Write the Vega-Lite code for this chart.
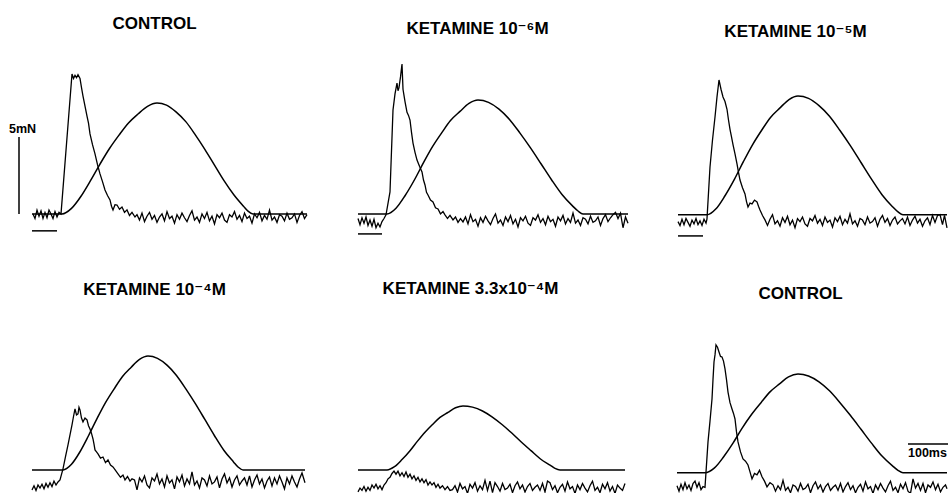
{
"$schema": "https://vega.github.io/schema/vega-lite/v6.json",
"background": "white",
"padding": {"left": 7, "top": 14, "right": 0, "bottom": 0},
"columns": 3,
"spacing": {"row": 81, "column": 28},
"bounds": "flush",
"config": {"view": {"stroke": null}, "title": {"font": "Liberation Sans, DejaVu Sans, sans-serif", "fontSize": 17, "fontWeight": "bold", "color": "#000", "anchor": "middle"}},
"datasets": {
"bars": [{"p":1,"t":-86,"t2":-86,"f":0,"f2":5},{"p":1,"t":-60,"t2":-10,"f":-1.1,"f2":-1.1},{"p":2,"t":-54,"t2":-6,"f":-1.3,"f2":-1.3},{"p":3,"t":-60,"t2":-10,"f":-1.43,"f2":-1.43},{"p":4,"t":-60,"t2":-10,"f":-1.43,"f2":-1.43},{"p":6,"t":400,"t2":500,"f":1.82,"f2":1.82}],
"labels": [{"p":1,"t":-106,"f":5.26,"label":"5mN"},{"p":6,"t":400,"f":0.97,"label":"100ms"}],
"traces": [
{"p":1,"s":"F","t":-60,"f":0},{"p":1,"s":"F","t":-30,"f":0},{"p":1,"s":"F","t":0,"f":0},{"p":1,"s":"F","t":19,"f":0.36},{"p":1,"s":"F","t":38,"f":1.15},{"p":1,"s":"F","t":57,"f":2.16},{"p":1,"s":"F","t":76,"f":3.24},{"p":1,"s":"F","t":95,"f":4.25},{"p":1,"s":"F","t":114,"f":5.12},{"p":1,"s":"F","t":133,"f":5.91},{"p":1,"s":"F","t":152,"f":6.49},{"p":1,"s":"F","t":171,"f":6.99},{"p":1,"s":"F","t":190,"f":7.21},{"p":1,"s":"F","t":209,"f":7.07},{"p":1,"s":"F","t":228,"f":6.63},{"p":1,"s":"F","t":248,"f":5.98},{"p":1,"s":"F","t":267,"f":5.12},{"p":1,"s":"F","t":286,"f":4.18},{"p":1,"s":"F","t":305,"f":3.17},{"p":1,"s":"F","t":324,"f":2.16},{"p":1,"s":"F","t":344,"f":1.23},{"p":1,"s":"F","t":363,"f":0.5},{"p":1,"s":"F","t":372,"f":0.18},{"p":1,"s":"F","t":382,"f":0},{"p":1,"s":"F","t":430,"f":0},{"p":1,"s":"F","t":490,"f":0},
{"p":2,"s":"F","t":-54,"f":0},{"p":2,"s":"F","t":-25,"f":0},{"p":2,"s":"F","t":4,"f":0},{"p":2,"s":"F","t":22,"f":0.37},{"p":2,"s":"F","t":40,"f":1.18},{"p":2,"s":"F","t":59,"f":2.22},{"p":2,"s":"F","t":77,"f":3.33},{"p":2,"s":"F","t":95,"f":4.37},{"p":2,"s":"F","t":113,"f":5.25},{"p":2,"s":"F","t":131,"f":6.07},{"p":2,"s":"F","t":150,"f":6.66},{"p":2,"s":"F","t":168,"f":7.18},{"p":2,"s":"F","t":186,"f":7.4},{"p":2,"s":"F","t":207,"f":7.25},{"p":2,"s":"F","t":228,"f":6.81},{"p":2,"s":"F","t":249,"f":6.14},{"p":2,"s":"F","t":270,"f":5.25},{"p":2,"s":"F","t":291,"f":4.29},{"p":2,"s":"F","t":312,"f":3.26},{"p":2,"s":"F","t":333,"f":2.22},{"p":2,"s":"F","t":354,"f":1.26},{"p":2,"s":"F","t":375,"f":0.52},{"p":2,"s":"F","t":386,"f":0.19},{"p":2,"s":"F","t":396,"f":0},{"p":2,"s":"F","t":440,"f":0},{"p":2,"s":"F","t":486,"f":0},
{"p":3,"s":"F","t":-60,"f":-0.06},{"p":3,"s":"F","t":-30,"f":-0.06},{"p":3,"s":"F","t":-2,"f":-0.06},{"p":3,"s":"F","t":16,"f":0.33},{"p":3,"s":"F","t":34,"f":1.18},{"p":3,"s":"F","t":53,"f":2.26},{"p":3,"s":"F","t":71,"f":3.41},{"p":3,"s":"F","t":89,"f":4.49},{"p":3,"s":"F","t":107,"f":5.42},{"p":3,"s":"F","t":125,"f":6.27},{"p":3,"s":"F","t":144,"f":6.89},{"p":3,"s":"F","t":162,"f":7.43},{"p":3,"s":"F","t":180,"f":7.66},{"p":3,"s":"F","t":201,"f":7.51},{"p":3,"s":"F","t":222,"f":7.04},{"p":3,"s":"F","t":243,"f":6.35},{"p":3,"s":"F","t":264,"f":5.42},{"p":3,"s":"F","t":285,"f":4.42},{"p":3,"s":"F","t":306,"f":3.34},{"p":3,"s":"F","t":327,"f":2.26},{"p":3,"s":"F","t":348,"f":1.25},{"p":3,"s":"F","t":369,"f":0.47},{"p":3,"s":"F","t":380,"f":0.13},{"p":3,"s":"F","t":390,"f":-0.06},{"p":3,"s":"F","t":430,"f":-0.06},{"p":3,"s":"F","t":478,"f":-0.06},
{"p":4,"s":"F","t":-60,"f":0.13},{"p":4,"s":"F","t":-30,"f":0.13},{"p":4,"s":"F","t":2,"f":0.13},{"p":4,"s":"F","t":19,"f":0.5},{"p":4,"s":"F","t":36,"f":1.31},{"p":4,"s":"F","t":53,"f":2.35},{"p":4,"s":"F","t":70,"f":3.46},{"p":4,"s":"F","t":87,"f":4.5},{"p":4,"s":"F","t":104,"f":5.38},{"p":4,"s":"F","t":121,"f":6.2},{"p":4,"s":"F","t":138,"f":6.79},{"p":4,"s":"F","t":155,"f":7.31},{"p":4,"s":"F","t":172,"f":7.53},{"p":4,"s":"F","t":191,"f":7.38},{"p":4,"s":"F","t":210,"f":6.94},{"p":4,"s":"F","t":229,"f":6.27},{"p":4,"s":"F","t":248,"f":5.38},{"p":4,"s":"F","t":267,"f":4.42},{"p":4,"s":"F","t":286,"f":3.39},{"p":4,"s":"F","t":305,"f":2.35},{"p":4,"s":"F","t":324,"f":1.39},{"p":4,"s":"F","t":343,"f":0.65},{"p":4,"s":"F","t":352,"f":0.32},{"p":4,"s":"F","t":362,"f":0.13},{"p":4,"s":"F","t":420,"f":0.13},{"p":4,"s":"F","t":486,"f":0.13},
{"p":5,"s":"F","t":-54,"f":0.13},{"p":5,"s":"F","t":-25,"f":0.13},{"p":5,"s":"F","t":4,"f":0.13},{"p":5,"s":"F","t":19,"f":0.34},{"p":5,"s":"F","t":34,"f":0.8},{"p":5,"s":"F","t":50,"f":1.38},{"p":5,"s":"F","t":65,"f":2.0},{"p":5,"s":"F","t":80,"f":2.58},{"p":5,"s":"F","t":95,"f":3.08},{"p":5,"s":"F","t":110,"f":3.54},{"p":5,"s":"F","t":126,"f":3.87},{"p":5,"s":"F","t":141,"f":4.17},{"p":5,"s":"F","t":156,"f":4.29},{"p":5,"s":"F","t":175,"f":4.21},{"p":5,"s":"F","t":195,"f":3.96},{"p":5,"s":"F","t":214,"f":3.58},{"p":5,"s":"F","t":234,"f":3.08},{"p":5,"s":"F","t":253,"f":2.54},{"p":5,"s":"F","t":272,"f":1.96},{"p":5,"s":"F","t":292,"f":1.38},{"p":5,"s":"F","t":311,"f":0.84},{"p":5,"s":"F","t":331,"f":0.42},{"p":5,"s":"F","t":340,"f":0.23},{"p":5,"s":"F","t":350,"f":0.13},{"p":5,"s":"F","t":410,"f":0.13},{"p":5,"s":"F","t":480,"f":0.13},
{"p":6,"s":"F","t":-62,"f":-0.06},{"p":6,"s":"F","t":-30,"f":-0.06},{"p":6,"s":"F","t":-6,"f":-0.06},{"p":6,"s":"F","t":13,"f":0.26},{"p":6,"s":"F","t":31,"f":0.97},{"p":6,"s":"F","t":50,"f":1.87},{"p":6,"s":"F","t":68,"f":2.83},{"p":6,"s":"F","t":87,"f":3.73},{"p":6,"s":"F","t":106,"f":4.5},{"p":6,"s":"F","t":124,"f":5.2},{"p":6,"s":"F","t":143,"f":5.72},{"p":6,"s":"F","t":161,"f":6.17},{"p":6,"s":"F","t":180,"f":6.36},{"p":6,"s":"F","t":201,"f":6.23},{"p":6,"s":"F","t":222,"f":5.85},{"p":6,"s":"F","t":243,"f":5.27},{"p":6,"s":"F","t":264,"f":4.5},{"p":6,"s":"F","t":285,"f":3.66},{"p":6,"s":"F","t":306,"f":2.77},{"p":6,"s":"F","t":327,"f":1.87},{"p":6,"s":"F","t":348,"f":1.03},{"p":6,"s":"F","t":369,"f":0.39},{"p":6,"s":"F","t":380,"f":0.1},{"p":6,"s":"F","t":390,"f":-0.06},{"p":6,"s":"F","t":430,"f":-0.06},{"p":6,"s":"F","t":478,"f":-0.06},
{"p":1,"s":"D","t":-58,"f":0.0},{"p":1,"s":"D","t":-54,"f":-0.3},{"p":1,"s":"D","t":-50,"f":0.25},{"p":1,"s":"D","t":-46,"f":-0.15},{"p":1,"s":"D","t":-42,"f":0.2},{"p":1,"s":"D","t":-38,"f":-0.3},{"p":1,"s":"D","t":-34,"f":0.1},{"p":1,"s":"D","t":-30,"f":-0.25},{"p":1,"s":"D","t":-26,"f":0.25},{"p":1,"s":"D","t":-22,"f":0.0},{"p":1,"s":"D","t":-18,"f":-0.3},{"p":1,"s":"D","t":-14,"f":0.15},{"p":1,"s":"D","t":-10,"f":-0.2},{"p":1,"s":"D","t":-6,"f":0.1},{"p":1,"s":"D","t":-2,"f":0.0},
{"p":1,"s":"D","t":20,"f":9.09},{"p":1,"s":"D","t":23,"f":8.8},{"p":1,"s":"D","t":26,"f":9.0},{"p":1,"s":"D","t":29,"f":8.85},{"p":1,"s":"D","t":32,"f":9.05},{"p":1,"s":"D","t":36,"f":8.8},{"p":1,"s":"D","t":39,"f":8.2},{"p":1,"s":"D","t":42,"f":7.66},{"p":1,"s":"D","t":46,"f":7.0},{"p":1,"s":"D","t":50,"f":6.36},{"p":1,"s":"D","t":53,"f":5.9},{"p":1,"s":"D","t":56,"f":5.2},{"p":1,"s":"D","t":61,"f":4.5},{"p":1,"s":"D","t":66,"f":3.9},{"p":1,"s":"D","t":71,"f":3.2},{"p":1,"s":"D","t":76,"f":2.6},{"p":1,"s":"D","t":81,"f":2.1},{"p":1,"s":"D","t":86,"f":1.56},{"p":1,"s":"D","t":91,"f":1.2},{"p":1,"s":"D","t":96,"f":0.91},{"p":1,"s":"D","t":99,"f":0.5},{"p":1,"s":"D","t":102,"f":0.26},{"p":1,"s":"D","t":106,"f":0.6},{"p":1,"s":"D","t":110,"f":0.58},{"p":1,"s":"D","t":115,"f":0.3},{"p":1,"s":"D","t":120,"f":0.45},{"p":1,"s":"D","t":125,"f":0.1},{"p":1,"s":"D","t":130,"f":0.26},{"p":1,"s":"D","t":135,"f":-0.1},{"p":1,"s":"D","t":140,"f":0.1},{"p":1,"s":"D","t":146,"f":-0.2},
{"p":1,"s":"D","t":150,"f":-0.05},{"p":1,"s":"D","t":155,"f":-0.4},{"p":1,"s":"D","t":160,"f":0.05},{"p":1,"s":"D","t":165,"f":-0.5},{"p":1,"s":"D","t":170,"f":-0.15},{"p":1,"s":"D","t":175,"f":0.1},{"p":1,"s":"D","t":180,"f":-0.35},{"p":1,"s":"D","t":185,"f":-0.1},{"p":1,"s":"D","t":190,"f":-0.55},{"p":1,"s":"D","t":195,"f":-0.2},{"p":1,"s":"D","t":200,"f":0.0},{"p":1,"s":"D","t":205,"f":-0.45},{"p":1,"s":"D","t":210,"f":0.15},{"p":1,"s":"D","t":215,"f":-0.3},{"p":1,"s":"D","t":220,"f":-0.15},{"p":1,"s":"D","t":225,"f":-0.6},{"p":1,"s":"D","t":230,"f":-0.05},{"p":1,"s":"D","t":235,"f":-0.35},{"p":1,"s":"D","t":240,"f":0.05},{"p":1,"s":"D","t":245,"f":-0.25},{"p":1,"s":"D","t":250,"f":-0.5},{"p":1,"s":"D","t":255,"f":-0.1},{"p":1,"s":"D","t":260,"f":0.2},{"p":1,"s":"D","t":265,"f":-0.4},{"p":1,"s":"D","t":270,"f":-0.2},{"p":1,"s":"D","t":275,"f":-0.55},{"p":1,"s":"D","t":280,"f":0.0},{"p":1,"s":"D","t":285,"f":-0.3},{"p":1,"s":"D","t":290,"f":0.1},{"p":1,"s":"D","t":295,"f":-0.45},{"p":1,"s":"D","t":300,"f":-0.15},{"p":1,"s":"D","t":305,"f":-0.65},{"p":1,"s":"D","t":310,"f":-0.05},{"p":1,"s":"D","t":315,"f":-0.25},{"p":1,"s":"D","t":320,"f":0.05},{"p":1,"s":"D","t":325,"f":-0.4},{"p":1,"s":"D","t":330,"f":-0.55},{"p":1,"s":"D","t":335,"f":-0.05},{"p":1,"s":"D","t":340,"f":-0.2},{"p":1,"s":"D","t":345,"f":0.15},{"p":1,"s":"D","t":350,"f":-0.35},{"p":1,"s":"D","t":355,"f":-0.1},{"p":1,"s":"D","t":360,"f":-0.5},{"p":1,"s":"D","t":365,"f":0.05},{"p":1,"s":"D","t":370,"f":-0.3},{"p":1,"s":"D","t":375,"f":-0.15},{"p":1,"s":"D","t":380,"f":-0.6},{"p":1,"s":"D","t":385,"f":0.0},{"p":1,"s":"D","t":390,"f":-0.25},{"p":1,"s":"D","t":395,"f":0.1},{"p":1,"s":"D","t":400,"f":-0.45},{"p":1,"s":"D","t":405,"f":-0.1},{"p":1,"s":"D","t":410,"f":-0.35},{"p":1,"s":"D","t":415,"f":0.25},{"p":1,"s":"D","t":420,"f":-0.4},{"p":1,"s":"D","t":425,"f":-0.2},{"p":1,"s":"D","t":430,"f":-0.55},{"p":1,"s":"D","t":435,"f":-0.05},{"p":1,"s":"D","t":440,"f":-0.15},{"p":1,"s":"D","t":445,"f":-0.45},{"p":1,"s":"D","t":450,"f":0.05},{"p":1,"s":"D","t":455,"f":-0.35},{"p":1,"s":"D","t":460,"f":-0.25},{"p":1,"s":"D","t":465,"f":0.0},{"p":1,"s":"D","t":470,"f":-0.55},{"p":1,"s":"D","t":475,"f":-0.1},{"p":1,"s":"D","t":480,"f":0.15},{"p":1,"s":"D","t":485,"f":-0.3},{"p":1,"s":"D","t":490,"f":-0.05},
{"p":2,"s":"D","t":-54,"f":-0.3},{"p":2,"s":"D","t":-50,"f":-0.7},{"p":2,"s":"D","t":-46,"f":-0.25},{"p":2,"s":"D","t":-42,"f":-0.6},{"p":2,"s":"D","t":-38,"f":-0.2},{"p":2,"s":"D","t":-34,"f":-0.75},{"p":2,"s":"D","t":-30,"f":-0.4},{"p":2,"s":"D","t":-26,"f":-0.8},{"p":2,"s":"D","t":-22,"f":-0.35},{"p":2,"s":"D","t":-18,"f":-0.9},{"p":2,"s":"D","t":-14,"f":-0.6},{"p":2,"s":"D","t":-10,"f":-0.85},{"p":2,"s":"D","t":-6,"f":-0.5},{"p":2,"s":"D","t":-2,"f":-0.3},{"p":2,"s":"D","t":2,"f":-0.06},
{"p":2,"s":"D","t":10,"f":1.43},{"p":2,"s":"D","t":16,"f":6.75},{"p":2,"s":"D","t":20,"f":7.8},{"p":2,"s":"D","t":24,"f":8.5},{"p":2,"s":"D","t":26,"f":8.0},{"p":2,"s":"D","t":28,"f":8.2},{"p":2,"s":"D","t":31,"f":8.9},{"p":2,"s":"D","t":34,"f":9.74},{"p":2,"s":"D","t":36,"f":8.1},{"p":2,"s":"D","t":40,"f":7.3},{"p":2,"s":"D","t":44,"f":6.6},{"p":2,"s":"D","t":47,"f":6.4},{"p":2,"s":"D","t":50,"f":6.1},{"p":2,"s":"D","t":53,"f":5.3},{"p":2,"s":"D","t":56,"f":4.6},{"p":2,"s":"D","t":60,"f":4.0},{"p":2,"s":"D","t":64,"f":3.5},{"p":2,"s":"D","t":69,"f":3.1},{"p":2,"s":"D","t":74,"f":2.73},{"p":2,"s":"D","t":77,"f":2.2},{"p":2,"s":"D","t":80,"f":1.88},{"p":2,"s":"D","t":83,"f":1.4},{"p":2,"s":"D","t":86,"f":1.23},{"p":2,"s":"D","t":91,"f":0.9},{"p":2,"s":"D","t":96,"f":0.78},{"p":2,"s":"D","t":101,"f":0.4},{"p":2,"s":"D","t":106,"f":0.32},{"p":2,"s":"D","t":111,"f":0.0},{"p":2,"s":"D","t":116,"f":0.15},{"p":2,"s":"D","t":120,"f":-0.06},{"p":2,"s":"D","t":125,"f":-0.3},{"p":2,"s":"D","t":130,"f":-0.1},{"p":2,"s":"D","t":136,"f":-0.39},{"p":2,"s":"D","t":141,"f":-0.2},{"p":2,"s":"D","t":146,"f":-0.55},{"p":2,"s":"D","t":151,"f":-0.3},{"p":2,"s":"D","t":156,"f":-0.52},
{"p":2,"s":"D","t":161,"f":-0.2},{"p":2,"s":"D","t":166,"f":-0.65},{"p":2,"s":"D","t":171,"f":-0.05},{"p":2,"s":"D","t":176,"f":-0.5},{"p":2,"s":"D","t":181,"f":-0.35},{"p":2,"s":"D","t":186,"f":-0.8},{"p":2,"s":"D","t":191,"f":-0.25},{"p":2,"s":"D","t":196,"f":-0.55},{"p":2,"s":"D","t":201,"f":-0.15},{"p":2,"s":"D","t":206,"f":-0.45},{"p":2,"s":"D","t":211,"f":-0.7},{"p":2,"s":"D","t":216,"f":-0.3},{"p":2,"s":"D","t":221,"f":0.0},{"p":2,"s":"D","t":226,"f":-0.6},{"p":2,"s":"D","t":231,"f":-0.4},{"p":2,"s":"D","t":236,"f":-0.75},{"p":2,"s":"D","t":241,"f":-0.2},{"p":2,"s":"D","t":246,"f":-0.5},{"p":2,"s":"D","t":251,"f":-0.1},{"p":2,"s":"D","t":256,"f":-0.65},{"p":2,"s":"D","t":261,"f":-0.35},{"p":2,"s":"D","t":266,"f":-0.85},{"p":2,"s":"D","t":271,"f":-0.25},{"p":2,"s":"D","t":276,"f":-0.45},{"p":2,"s":"D","t":281,"f":-0.15},{"p":2,"s":"D","t":286,"f":-0.6},{"p":2,"s":"D","t":291,"f":-0.75},{"p":2,"s":"D","t":296,"f":-0.25},{"p":2,"s":"D","t":301,"f":-0.4},{"p":2,"s":"D","t":306,"f":-0.05},{"p":2,"s":"D","t":311,"f":-0.55},{"p":2,"s":"D","t":316,"f":-0.3},{"p":2,"s":"D","t":321,"f":-0.7},{"p":2,"s":"D","t":326,"f":-0.15},{"p":2,"s":"D","t":331,"f":-0.5},{"p":2,"s":"D","t":336,"f":-0.35},{"p":2,"s":"D","t":341,"f":-0.8},{"p":2,"s":"D","t":346,"f":-0.2},{"p":2,"s":"D","t":351,"f":-0.45},{"p":2,"s":"D","t":356,"f":-0.1},{"p":2,"s":"D","t":361,"f":-0.65},{"p":2,"s":"D","t":366,"f":-0.3},{"p":2,"s":"D","t":371,"f":-0.55},{"p":2,"s":"D","t":376,"f":0.05},{"p":2,"s":"D","t":381,"f":-0.6},{"p":2,"s":"D","t":386,"f":-0.4},{"p":2,"s":"D","t":391,"f":-0.75},{"p":2,"s":"D","t":396,"f":-0.25},{"p":2,"s":"D","t":401,"f":-0.35},{"p":2,"s":"D","t":406,"f":-0.65},{"p":2,"s":"D","t":411,"f":-0.15},{"p":2,"s":"D","t":416,"f":-0.55},{"p":2,"s":"D","t":421,"f":-0.45},{"p":2,"s":"D","t":426,"f":-0.2},{"p":2,"s":"D","t":431,"f":-0.75},{"p":2,"s":"D","t":436,"f":-0.3},{"p":2,"s":"D","t":441,"f":-0.05},{"p":2,"s":"D","t":446,"f":-0.5},{"p":2,"s":"D","t":451,"f":-0.25},{"p":2,"s":"D","t":456,"f":-0.05},{"p":2,"s":"D","t":461,"f":0.1},{"p":2,"s":"D","t":466,"f":-0.3},{"p":2,"s":"D","t":471,"f":0.05},{"p":2,"s":"D","t":476,"f":-0.9},{"p":2,"s":"D","t":481,"f":-0.2},{"p":2,"s":"D","t":486,"f":-0.6},
{"p":3,"s":"D","t":-60,"f":-0.5},{"p":3,"s":"D","t":-56,"f":-0.75},{"p":3,"s":"D","t":-52,"f":-0.35},{"p":3,"s":"D","t":-48,"f":-0.7},{"p":3,"s":"D","t":-44,"f":-0.3},{"p":3,"s":"D","t":-40,"f":-0.55},{"p":3,"s":"D","t":-36,"f":-0.8},{"p":3,"s":"D","t":-32,"f":-0.4},{"p":3,"s":"D","t":-28,"f":-0.65},{"p":3,"s":"D","t":-24,"f":-0.3},{"p":3,"s":"D","t":-20,"f":-0.7},{"p":3,"s":"D","t":-16,"f":-0.45},{"p":3,"s":"D","t":-12,"f":-0.75},{"p":3,"s":"D","t":-8,"f":-0.35},{"p":3,"s":"D","t":-4,"f":-0.6},{"p":3,"s":"D","t":-2,"f":-0.32},
{"p":3,"s":"D","t":4,"f":3.05},{"p":3,"s":"D","t":9,"f":4.8},{"p":3,"s":"D","t":14,"f":6.3},{"p":3,"s":"D","t":18,"f":7.6},{"p":3,"s":"D","t":22,"f":8.7},{"p":3,"s":"D","t":26,"f":8.1},{"p":3,"s":"D","t":30,"f":7.6},{"p":3,"s":"D","t":34,"f":7.3},{"p":3,"s":"D","t":38,"f":6.8},{"p":3,"s":"D","t":41,"f":6.1},{"p":3,"s":"D","t":44,"f":5.5},{"p":3,"s":"D","t":47,"f":5.0},{"p":3,"s":"D","t":50,"f":4.5},{"p":3,"s":"D","t":54,"f":3.9},{"p":3,"s":"D","t":58,"f":3.25},{"p":3,"s":"D","t":61,"f":2.7},{"p":3,"s":"D","t":64,"f":2.2},{"p":3,"s":"D","t":69,"f":1.7},{"p":3,"s":"D","t":74,"f":1.3},{"p":3,"s":"D","t":77,"f":0.8},{"p":3,"s":"D","t":80,"f":0.45},{"p":3,"s":"D","t":84,"f":0.7},{"p":3,"s":"D","t":88,"f":0.65},{"p":3,"s":"D","t":93,"f":0.9},{"p":3,"s":"D","t":98,"f":0.78},{"p":3,"s":"D","t":101,"f":0.5},{"p":3,"s":"D","t":104,"f":0.26},{"p":3,"s":"D","t":109,"f":-0.1},{"p":3,"s":"D","t":114,"f":-0.39},
{"p":3,"s":"D","t":119,"f":-0.75},{"p":3,"s":"D","t":124,"f":-0.35},{"p":3,"s":"D","t":129,"f":-0.05},{"p":3,"s":"D","t":134,"f":-0.65},{"p":3,"s":"D","t":139,"f":-0.45},{"p":3,"s":"D","t":144,"f":-0.8},{"p":3,"s":"D","t":149,"f":-0.25},{"p":3,"s":"D","t":154,"f":-0.55},{"p":3,"s":"D","t":159,"f":-0.15},{"p":3,"s":"D","t":164,"f":-0.7},{"p":3,"s":"D","t":169,"f":-0.4},{"p":3,"s":"D","t":174,"f":-0.9},{"p":3,"s":"D","t":179,"f":-0.3},{"p":3,"s":"D","t":184,"f":-0.5},{"p":3,"s":"D","t":189,"f":-0.2},{"p":3,"s":"D","t":194,"f":-0.65},{"p":3,"s":"D","t":199,"f":-0.8},{"p":3,"s":"D","t":204,"f":-0.3},{"p":3,"s":"D","t":209,"f":-0.45},{"p":3,"s":"D","t":214,"f":-0.1},{"p":3,"s":"D","t":219,"f":-0.6},{"p":3,"s":"D","t":224,"f":-0.35},{"p":3,"s":"D","t":229,"f":-0.75},{"p":3,"s":"D","t":234,"f":-0.2},{"p":3,"s":"D","t":239,"f":-0.55},{"p":3,"s":"D","t":244,"f":-0.4},{"p":3,"s":"D","t":249,"f":-0.85},{"p":3,"s":"D","t":254,"f":-0.25},{"p":3,"s":"D","t":259,"f":-0.5},{"p":3,"s":"D","t":264,"f":-0.15},{"p":3,"s":"D","t":269,"f":-0.7},{"p":3,"s":"D","t":274,"f":-0.35},{"p":3,"s":"D","t":279,"f":-0.6},{"p":3,"s":"D","t":284,"f":0.0},{"p":3,"s":"D","t":289,"f":-0.65},{"p":3,"s":"D","t":294,"f":-0.45},{"p":3,"s":"D","t":299,"f":-0.8},{"p":3,"s":"D","t":304,"f":-0.3},{"p":3,"s":"D","t":309,"f":-0.4},{"p":3,"s":"D","t":314,"f":-0.7},{"p":3,"s":"D","t":319,"f":-0.2},{"p":3,"s":"D","t":324,"f":-0.6},{"p":3,"s":"D","t":329,"f":-0.5},{"p":3,"s":"D","t":334,"f":-0.25},{"p":3,"s":"D","t":339,"f":-0.8},{"p":3,"s":"D","t":344,"f":-0.35},{"p":3,"s":"D","t":349,"f":-0.1},{"p":3,"s":"D","t":354,"f":-0.55},{"p":3,"s":"D","t":359,"f":-0.3},{"p":3,"s":"D","t":364,"f":-0.75},{"p":3,"s":"D","t":369,"f":-0.4},{"p":3,"s":"D","t":374,"f":-0.2},{"p":3,"s":"D","t":379,"f":-0.65},{"p":3,"s":"D","t":384,"f":-0.45},{"p":3,"s":"D","t":389,"f":-0.3},{"p":3,"s":"D","t":394,"f":-0.65},{"p":3,"s":"D","t":399,"f":-0.2},{"p":3,"s":"D","t":404,"f":-0.75},{"p":3,"s":"D","t":409,"f":-0.4},{"p":3,"s":"D","t":414,"f":-0.15},{"p":3,"s":"D","t":419,"f":-0.6},{"p":3,"s":"D","t":424,"f":-0.35},{"p":3,"s":"D","t":429,"f":-0.8},{"p":3,"s":"D","t":434,"f":-0.45},{"p":3,"s":"D","t":439,"f":-0.25},{"p":3,"s":"D","t":444,"f":-0.7},{"p":3,"s":"D","t":449,"f":-0.1},{"p":3,"s":"D","t":454,"f":-0.55},{"p":3,"s":"D","t":459,"f":-0.1},{"p":3,"s":"D","t":464,"f":-0.05},{"p":3,"s":"D","t":469,"f":-0.7},{"p":3,"s":"D","t":473,"f":-0.1},{"p":3,"s":"D","t":478,"f":-0.9},
{"p":4,"s":"D","t":-60,"f":-1.17},{"p":4,"s":"D","t":-56,"f":-0.9},{"p":4,"s":"D","t":-52,"f":-1.2},{"p":4,"s":"D","t":-48,"f":-0.85},{"p":4,"s":"D","t":-44,"f":-1.05},{"p":4,"s":"D","t":-40,"f":-0.8},{"p":4,"s":"D","t":-36,"f":-1.1},{"p":4,"s":"D","t":-32,"f":-0.75},{"p":4,"s":"D","t":-28,"f":-1.0},{"p":4,"s":"D","t":-24,"f":-0.7},{"p":4,"s":"D","t":-20,"f":-0.95},{"p":4,"s":"D","t":-16,"f":-0.6},{"p":4,"s":"D","t":-12,"f":-0.85},{"p":4,"s":"D","t":-8,"f":-0.65},{"p":4,"s":"D","t":-4,"f":-0.52},
{"p":4,"s":"D","t":2,"f":0.2},{"p":4,"s":"D","t":7,"f":1.0},{"p":4,"s":"D","t":12,"f":1.75},{"p":4,"s":"D","t":16,"f":2.4},{"p":4,"s":"D","t":20,"f":3.05},{"p":4,"s":"D","t":23,"f":3.6},{"p":4,"s":"D","t":26,"f":4.09},{"p":4,"s":"D","t":29,"f":3.7},{"p":4,"s":"D","t":32,"f":3.77},{"p":4,"s":"D","t":34,"f":4.2},{"p":4,"s":"D","t":36,"f":4.03},{"p":4,"s":"D","t":39,"f":3.5},{"p":4,"s":"D","t":42,"f":3.25},{"p":4,"s":"D","t":46,"f":3.5},{"p":4,"s":"D","t":50,"f":3.38},{"p":4,"s":"D","t":53,"f":3.0},{"p":4,"s":"D","t":56,"f":2.79},{"p":4,"s":"D","t":59,"f":2.5},{"p":4,"s":"D","t":62,"f":2.14},{"p":4,"s":"D","t":64,"f":1.8},{"p":4,"s":"D","t":66,"f":1.43},{"p":4,"s":"D","t":69,"f":1.3},{"p":4,"s":"D","t":72,"f":1.17},{"p":4,"s":"D","t":77,"f":0.9},{"p":4,"s":"D","t":82,"f":0.97},{"p":4,"s":"D","t":87,"f":0.6},{"p":4,"s":"D","t":92,"f":0.78},{"p":4,"s":"D","t":97,"f":0.45},{"p":4,"s":"D","t":102,"f":0.32},{"p":4,"s":"D","t":107,"f":0.1},{"p":4,"s":"D","t":112,"f":-0.13},{"p":4,"s":"D","t":117,"f":-0.35},{"p":4,"s":"D","t":122,"f":-0.2},{"p":4,"s":"D","t":126,"f":-0.52},{"p":4,"s":"D","t":131,"f":-0.3},{"p":4,"s":"D","t":136,"f":-0.6},{"p":4,"s":"D","t":140,"f":-0.45},
{"p":4,"s":"D","t":145,"f":-0.52},{"p":4,"s":"D","t":150,"f":-1.17},{"p":4,"s":"D","t":155,"f":-0.39},{"p":4,"s":"D","t":160,"f":-0.65},{"p":4,"s":"D","t":165,"f":-0.26},{"p":4,"s":"D","t":170,"f":-0.85},{"p":4,"s":"D","t":175,"f":-1.04},{"p":4,"s":"D","t":180,"f":-0.39},{"p":4,"s":"D","t":185,"f":-0.59},{"p":4,"s":"D","t":190,"f":-0.13},{"p":4,"s":"D","t":195,"f":-0.78},{"p":4,"s":"D","t":200,"f":-0.46},{"p":4,"s":"D","t":205,"f":-0.98},{"p":4,"s":"D","t":210,"f":-0.26},{"p":4,"s":"D","t":215,"f":-0.72},{"p":4,"s":"D","t":220,"f":-0.52},{"p":4,"s":"D","t":225,"f":-1.1},{"p":4,"s":"D","t":230,"f":-0.33},{"p":4,"s":"D","t":235,"f":-0.65},{"p":4,"s":"D","t":240,"f":-0.2},{"p":4,"s":"D","t":245,"f":-0.91},{"p":4,"s":"D","t":250,"f":-0.46},{"p":4,"s":"D","t":255,"f":-0.78},{"p":4,"s":"D","t":260,"f":0.0},{"p":4,"s":"D","t":265,"f":-0.85},{"p":4,"s":"D","t":270,"f":-0.59},{"p":4,"s":"D","t":275,"f":-1.04},{"p":4,"s":"D","t":280,"f":-0.39},{"p":4,"s":"D","t":285,"f":-0.52},{"p":4,"s":"D","t":290,"f":-0.91},{"p":4,"s":"D","t":295,"f":-0.26},{"p":4,"s":"D","t":300,"f":-0.78},{"p":4,"s":"D","t":305,"f":-0.65},{"p":4,"s":"D","t":310,"f":-0.33},{"p":4,"s":"D","t":315,"f":-1.04},{"p":4,"s":"D","t":320,"f":-0.46},{"p":4,"s":"D","t":325,"f":-0.13},{"p":4,"s":"D","t":330,"f":-0.72},{"p":4,"s":"D","t":335,"f":-0.39},{"p":4,"s":"D","t":340,"f":-0.98},{"p":4,"s":"D","t":345,"f":-0.52},{"p":4,"s":"D","t":350,"f":-0.26},{"p":4,"s":"D","t":355,"f":-0.85},{"p":4,"s":"D","t":360,"f":-0.59},{"p":4,"s":"D","t":365,"f":-0.39},{"p":4,"s":"D","t":370,"f":-0.85},{"p":4,"s":"D","t":375,"f":-0.26},{"p":4,"s":"D","t":380,"f":-0.98},{"p":4,"s":"D","t":385,"f":-0.52},{"p":4,"s":"D","t":390,"f":-0.2},{"p":4,"s":"D","t":395,"f":-0.78},{"p":4,"s":"D","t":400,"f":-0.46},{"p":4,"s":"D","t":405,"f":-1.04},{"p":4,"s":"D","t":410,"f":-0.59},{"p":4,"s":"D","t":415,"f":-0.33},{"p":4,"s":"D","t":420,"f":-0.91},{"p":4,"s":"D","t":425,"f":-0.39},{"p":4,"s":"D","t":430,"f":-0.78},{"p":4,"s":"D","t":435,"f":-0.26},{"p":4,"s":"D","t":440,"f":-0.65},{"p":4,"s":"D","t":445,"f":-1.1},{"p":4,"s":"D","t":450,"f":-0.39},{"p":4,"s":"D","t":455,"f":-0.78},{"p":4,"s":"D","t":460,"f":-0.26},{"p":4,"s":"D","t":465,"f":-0.65},{"p":4,"s":"D","t":470,"f":-0.98},{"p":4,"s":"D","t":475,"f":-0.46},{"p":4,"s":"D","t":480,"f":-0.07},{"p":4,"s":"D","t":486,"f":-0.7},
{"p":5,"s":"D","t":-54,"f":-1.3},{"p":5,"s":"D","t":-50,"f":-1.05},{"p":5,"s":"D","t":-46,"f":-1.2},{"p":5,"s":"D","t":-42,"f":-0.95},{"p":5,"s":"D","t":-38,"f":-1.25},{"p":5,"s":"D","t":-34,"f":-1.0},{"p":5,"s":"D","t":-30,"f":-1.2},{"p":5,"s":"D","t":-26,"f":-0.85},{"p":5,"s":"D","t":-22,"f":-1.05},{"p":5,"s":"D","t":-18,"f":-0.8},{"p":5,"s":"D","t":-14,"f":-1.1},{"p":5,"s":"D","t":-10,"f":-0.9},{"p":5,"s":"D","t":-6,"f":-1.15},{"p":5,"s":"D","t":-2,"f":-0.85},{"p":5,"s":"D","t":2,"f":-0.7},{"p":5,"s":"D","t":6,"f":-0.45},{"p":5,"s":"D","t":10,"f":-0.35},{"p":5,"s":"D","t":14,"f":-0.1},{"p":5,"s":"D","t":18,"f":0.05},{"p":5,"s":"D","t":22,"f":-0.15},{"p":5,"s":"D","t":26,"f":0.05},{"p":5,"s":"D","t":30,"f":-0.25},{"p":5,"s":"D","t":34,"f":-0.05},{"p":5,"s":"D","t":38,"f":-0.3},{"p":5,"s":"D","t":42,"f":0.0},{"p":5,"s":"D","t":46,"f":-0.35},{"p":5,"s":"D","t":50,"f":-0.15},{"p":5,"s":"D","t":54,"f":-0.45},{"p":5,"s":"D","t":58,"f":-0.25},{"p":5,"s":"D","t":62,"f":-0.55},{"p":5,"s":"D","t":66,"f":-0.35},{"p":5,"s":"D","t":70,"f":-0.65},{"p":5,"s":"D","t":74,"f":-0.45},{"p":5,"s":"D","t":78,"f":-0.7},{"p":5,"s":"D","t":82,"f":-0.5},{"p":5,"s":"D","t":86,"f":-0.85},{"p":5,"s":"D","t":90,"f":-0.65},{"p":5,"s":"D","t":94,"f":-0.85},{"p":5,"s":"D","t":98,"f":-0.7},{"p":5,"s":"D","t":102,"f":-1.0},{"p":5,"s":"D","t":106,"f":-0.8},{"p":5,"s":"D","t":110,"f":-1.05},{"p":5,"s":"D","t":115,"f":-0.9},{"p":5,"s":"D","t":120,"f":-1.15},{"p":5,"s":"D","t":125,"f":-0.95},{"p":5,"s":"D","t":130,"f":-1.2},
{"p":5,"s":"D","t":135,"f":-1.15},{"p":5,"s":"D","t":140,"f":-0.9},{"p":5,"s":"D","t":145,"f":-1.3},{"p":5,"s":"D","t":150,"f":-0.75},{"p":5,"s":"D","t":155,"f":-1.1},{"p":5,"s":"D","t":160,"f":-0.95},{"p":5,"s":"D","t":165,"f":-1.4},{"p":5,"s":"D","t":170,"f":-0.8},{"p":5,"s":"D","t":175,"f":-1.05},{"p":5,"s":"D","t":180,"f":-0.7},{"p":5,"s":"D","t":185,"f":-1.25},{"p":5,"s":"D","t":190,"f":-0.9},{"p":5,"s":"D","t":195,"f":-1.15},{"p":5,"s":"D","t":200,"f":-0.55},{"p":5,"s":"D","t":205,"f":-1.2},{"p":5,"s":"D","t":210,"f":-0.6},{"p":5,"s":"D","t":215,"f":-1.35},{"p":5,"s":"D","t":220,"f":-0.7},{"p":5,"s":"D","t":225,"f":-0.95},{"p":5,"s":"D","t":230,"f":-1.25},{"p":5,"s":"D","t":235,"f":-0.75},{"p":5,"s":"D","t":240,"f":-1.15},{"p":5,"s":"D","t":245,"f":-1.05},{"p":5,"s":"D","t":250,"f":-0.8},{"p":5,"s":"D","t":255,"f":-1.35},{"p":5,"s":"D","t":260,"f":-0.9},{"p":5,"s":"D","t":265,"f":-0.65},{"p":5,"s":"D","t":270,"f":-1.1},{"p":5,"s":"D","t":275,"f":-0.85},{"p":5,"s":"D","t":280,"f":-1.3},{"p":5,"s":"D","t":285,"f":-0.95},{"p":5,"s":"D","t":290,"f":-0.75},{"p":5,"s":"D","t":295,"f":-1.2},{"p":5,"s":"D","t":300,"f":-1.0},{"p":5,"s":"D","t":305,"f":-0.85},{"p":5,"s":"D","t":310,"f":-1.2},{"p":5,"s":"D","t":315,"f":-0.75},{"p":5,"s":"D","t":320,"f":-1.3},{"p":5,"s":"D","t":325,"f":-0.6},{"p":5,"s":"D","t":330,"f":-0.7},{"p":5,"s":"D","t":335,"f":-1.15},{"p":5,"s":"D","t":340,"f":-0.9},{"p":5,"s":"D","t":345,"f":-1.35},{"p":5,"s":"D","t":350,"f":-1.0},{"p":5,"s":"D","t":355,"f":-0.8},{"p":5,"s":"D","t":360,"f":-1.25},{"p":5,"s":"D","t":365,"f":-0.65},{"p":5,"s":"D","t":370,"f":-1.1},{"p":5,"s":"D","t":375,"f":-0.95},{"p":5,"s":"D","t":380,"f":-1.4},{"p":5,"s":"D","t":385,"f":-0.85},{"p":5,"s":"D","t":390,"f":-1.15},{"p":5,"s":"D","t":395,"f":-0.75},{"p":5,"s":"D","t":400,"f":-1.05},{"p":5,"s":"D","t":405,"f":-1.3},{"p":5,"s":"D","t":410,"f":-0.9},{"p":5,"s":"D","t":415,"f":-0.6},{"p":5,"s":"D","t":420,"f":-1.2},{"p":5,"s":"D","t":425,"f":-1.0},{"p":5,"s":"D","t":430,"f":-1.35},{"p":5,"s":"D","t":435,"f":-0.8},{"p":5,"s":"D","t":440,"f":-1.1},{"p":5,"s":"D","t":445,"f":-0.7},{"p":5,"s":"D","t":450,"f":-1.25},{"p":5,"s":"D","t":455,"f":-0.95},{"p":5,"s":"D","t":460,"f":-1.4},{"p":5,"s":"D","t":465,"f":-0.85},{"p":5,"s":"D","t":470,"f":-1.05},{"p":5,"s":"D","t":475,"f":-1.2},{"p":5,"s":"D","t":480,"f":-0.75},
{"p":6,"s":"D","t":-62,"f":-0.9},{"p":6,"s":"D","t":-58,"f":-1.25},{"p":6,"s":"D","t":-54,"f":-0.8},{"p":6,"s":"D","t":-50,"f":-1.15},{"p":6,"s":"D","t":-46,"f":-0.7},{"p":6,"s":"D","t":-42,"f":-1.1},{"p":6,"s":"D","t":-38,"f":-0.85},{"p":6,"s":"D","t":-34,"f":-1.2},{"p":6,"s":"D","t":-30,"f":-0.75},{"p":6,"s":"D","t":-26,"f":-0.6},{"p":6,"s":"D","t":-22,"f":-1.0},{"p":6,"s":"D","t":-18,"f":-0.7},{"p":6,"s":"D","t":-14,"f":-1.15},{"p":6,"s":"D","t":-10,"f":-0.95},{"p":6,"s":"D","t":-6,"f":-1.0},
{"p":6,"s":"D","t":0,"f":1.95},{"p":6,"s":"D","t":4,"f":3.3},{"p":6,"s":"D","t":8,"f":4.74},{"p":6,"s":"D","t":10,"f":6.0},{"p":6,"s":"D","t":12,"f":7.14},{"p":6,"s":"D","t":14,"f":7.6},{"p":6,"s":"D","t":16,"f":8.25},{"p":6,"s":"D","t":19,"f":8.1},{"p":6,"s":"D","t":22,"f":7.79},{"p":6,"s":"D","t":25,"f":7.5},{"p":6,"s":"D","t":28,"f":7.47},{"p":6,"s":"D","t":31,"f":7.2},{"p":6,"s":"D","t":34,"f":6.69},{"p":6,"s":"D","t":37,"f":6.0},{"p":6,"s":"D","t":40,"f":5.19},{"p":6,"s":"D","t":44,"f":4.5},{"p":6,"s":"D","t":48,"f":4.09},{"p":6,"s":"D","t":51,"f":3.8},{"p":6,"s":"D","t":54,"f":3.44},{"p":6,"s":"D","t":57,"f":2.6},{"p":6,"s":"D","t":60,"f":1.95},{"p":6,"s":"D","t":65,"f":1.3},{"p":6,"s":"D","t":70,"f":0.84},{"p":6,"s":"D","t":75,"f":0.7},{"p":6,"s":"D","t":80,"f":0.45},{"p":6,"s":"D","t":84,"f":0.0},{"p":6,"s":"D","t":88,"f":-0.45},{"p":6,"s":"D","t":93,"f":-0.1},{"p":6,"s":"D","t":98,"f":-0.19},{"p":6,"s":"D","t":103,"f":0.1},{"p":6,"s":"D","t":108,"f":-0.32},{"p":6,"s":"D","t":113,"f":-0.6},{"p":6,"s":"D","t":118,"f":-0.97},{"p":6,"s":"D","t":124,"f":-0.7},{"p":6,"s":"D","t":130,"f":-0.84},
{"p":6,"s":"D","t":135,"f":-1.25},{"p":6,"s":"D","t":140,"f":-0.9},{"p":6,"s":"D","t":145,"f":-1.15},{"p":6,"s":"D","t":150,"f":-0.55},{"p":6,"s":"D","t":155,"f":-1.2},{"p":6,"s":"D","t":160,"f":-1.0},{"p":6,"s":"D","t":165,"f":-1.35},{"p":6,"s":"D","t":170,"f":-0.85},{"p":6,"s":"D","t":175,"f":-0.95},{"p":6,"s":"D","t":180,"f":-1.25},{"p":6,"s":"D","t":185,"f":-0.75},{"p":6,"s":"D","t":190,"f":-1.15},{"p":6,"s":"D","t":195,"f":-1.05},{"p":6,"s":"D","t":200,"f":-0.8},{"p":6,"s":"D","t":205,"f":-1.35},{"p":6,"s":"D","t":210,"f":-0.9},{"p":6,"s":"D","t":215,"f":-0.65},{"p":6,"s":"D","t":220,"f":-1.1},{"p":6,"s":"D","t":225,"f":-0.85},{"p":6,"s":"D","t":230,"f":-1.3},{"p":6,"s":"D","t":235,"f":-0.95},{"p":6,"s":"D","t":240,"f":-0.75},{"p":6,"s":"D","t":245,"f":-1.2},{"p":6,"s":"D","t":250,"f":-1.0},{"p":6,"s":"D","t":255,"f":-0.85},{"p":6,"s":"D","t":260,"f":-1.2},{"p":6,"s":"D","t":265,"f":-0.75},{"p":6,"s":"D","t":270,"f":-1.3},{"p":6,"s":"D","t":275,"f":-0.95},{"p":6,"s":"D","t":280,"f":-0.7},{"p":6,"s":"D","t":285,"f":-1.15},{"p":6,"s":"D","t":290,"f":-0.9},{"p":6,"s":"D","t":295,"f":-1.35},{"p":6,"s":"D","t":300,"f":-1.0},{"p":6,"s":"D","t":305,"f":-0.8},{"p":6,"s":"D","t":310,"f":-1.25},{"p":6,"s":"D","t":315,"f":-0.65},{"p":6,"s":"D","t":320,"f":-1.1},{"p":6,"s":"D","t":325,"f":-0.95},{"p":6,"s":"D","t":330,"f":-1.4},{"p":6,"s":"D","t":335,"f":-0.85},{"p":6,"s":"D","t":340,"f":-1.15},{"p":6,"s":"D","t":345,"f":-0.75},{"p":6,"s":"D","t":350,"f":-1.05},{"p":6,"s":"D","t":355,"f":-1.3},{"p":6,"s":"D","t":360,"f":-0.9},{"p":6,"s":"D","t":365,"f":-0.6},{"p":6,"s":"D","t":370,"f":-1.2},{"p":6,"s":"D","t":375,"f":-1.0},{"p":6,"s":"D","t":380,"f":-1.35},{"p":6,"s":"D","t":385,"f":-0.8},{"p":6,"s":"D","t":390,"f":-1.1},{"p":6,"s":"D","t":395,"f":-0.7},{"p":6,"s":"D","t":400,"f":-1.25},{"p":6,"s":"D","t":405,"f":-1.4},{"p":6,"s":"D","t":410,"f":-0.45},{"p":6,"s":"D","t":415,"f":-1.05},{"p":6,"s":"D","t":420,"f":-0.75},{"p":6,"s":"D","t":425,"f":-1.2},{"p":6,"s":"D","t":430,"f":-0.75},{"p":6,"s":"D","t":435,"f":-1.35},{"p":6,"s":"D","t":440,"f":-0.85},{"p":6,"s":"D","t":445,"f":-1.0},{"p":6,"s":"D","t":450,"f":-0.65},{"p":6,"s":"D","t":455,"f":-1.15},{"p":6,"s":"D","t":460,"f":-0.8},{"p":6,"s":"D","t":465,"f":-1.3},{"p":6,"s":"D","t":470,"f":-1.0},{"p":6,"s":"D","t":475,"f":-0.85},{"p":6,"s":"D","t":478,"f":-1.1}
]
},
"concat": [
{"width": 295, "height": 177, "title": {"text": "CONTROL", "offset": 27.4},
 "layer": [
  {"data": {"name": "traces"}, "transform": [{"filter": "datum.p == 1 && datum.s == 'F'"}], "mark": {"type": "line", "interpolate": "monotone", "color": "#000", "strokeWidth": 1.5}, "encoding": {"x": {"field": "t", "type": "quantitative", "scale": {"domain": [-110, 480], "nice": false, "zero": false}, "axis": null}, "y": {"field": "f", "type": "quantitative", "scale": {"domain": [-1.5, 10], "nice": false, "zero": false}, "axis": null}}},
  {"data": {"name": "traces"}, "transform": [{"filter": "datum.p == 1 && datum.s == 'D'"}], "mark": {"type": "line", "color": "#000", "strokeWidth": 1.3}, "encoding": {"x": {"field": "t", "type": "quantitative"}, "y": {"field": "f", "type": "quantitative"}}},
  {"data": {"name": "bars"}, "transform": [{"filter": "datum.p == 1"}], "mark": {"type": "rule", "clip": true, "color": "#000", "strokeWidth": 1.5}, "encoding": {"x": {"field": "t", "type": "quantitative"}, "x2": {"field": "t2"}, "y": {"field": "f", "type": "quantitative"}, "y2": {"field": "f2"}}},
  {"data": {"name": "labels"}, "transform": [{"filter": "datum.p == 1"}], "mark": {"type": "text", "clip": true, "align": "left", "baseline": "alphabetic", "font": "Liberation Sans, DejaVu Sans, sans-serif", "fontSize": 12.5, "fontWeight": "bold", "color": "#000"}, "encoding": {"x": {"field": "t", "type": "quantitative"}, "y": {"field": "f", "type": "quantitative"}, "text": {"field": "label"}}}
 ]},
{"width": 295, "height": 177, "title": {"text": "KETAMINE 10⁻⁶M", "offset": 22.4},
 "layer": [
  {"data": {"name": "traces"}, "transform": [{"filter": "datum.p == 2 && datum.s == 'F'"}], "mark": {"type": "line", "interpolate": "monotone", "color": "#000", "strokeWidth": 1.5}, "encoding": {"x": {"field": "t", "type": "quantitative", "scale": {"domain": [-110, 480], "nice": false, "zero": false}, "axis": null}, "y": {"field": "f", "type": "quantitative", "scale": {"domain": [-1.5, 10], "nice": false, "zero": false}, "axis": null}}},
  {"data": {"name": "traces"}, "transform": [{"filter": "datum.p == 2 && datum.s == 'D'"}], "mark": {"type": "line", "color": "#000", "strokeWidth": 1.3}, "encoding": {"x": {"field": "t", "type": "quantitative"}, "y": {"field": "f", "type": "quantitative"}}},
  {"data": {"name": "bars"}, "transform": [{"filter": "datum.p == 2"}], "mark": {"type": "rule", "clip": true, "color": "#000", "strokeWidth": 1.5}, "encoding": {"x": {"field": "t", "type": "quantitative"}, "x2": {"field": "t2"}, "y": {"field": "f", "type": "quantitative"}, "y2": {"field": "f2"}}}
 ]},
{"width": 295, "height": 177, "title": {"text": "KETAMINE 10⁻⁵M", "offset": 19.4, "dx": -5},
 "layer": [
  {"data": {"name": "traces"}, "transform": [{"filter": "datum.p == 3 && datum.s == 'F'"}], "mark": {"type": "line", "interpolate": "monotone", "color": "#000", "strokeWidth": 1.5}, "encoding": {"x": {"field": "t", "type": "quantitative", "scale": {"domain": [-110, 480], "nice": false, "zero": false}, "axis": null}, "y": {"field": "f", "type": "quantitative", "scale": {"domain": [-1.5, 10], "nice": false, "zero": false}, "axis": null}}},
  {"data": {"name": "traces"}, "transform": [{"filter": "datum.p == 3 && datum.s == 'D'"}], "mark": {"type": "line", "color": "#000", "strokeWidth": 1.3}, "encoding": {"x": {"field": "t", "type": "quantitative"}, "y": {"field": "f", "type": "quantitative"}}},
  {"data": {"name": "bars"}, "transform": [{"filter": "datum.p == 3"}], "mark": {"type": "rule", "clip": true, "color": "#000", "strokeWidth": 1.5}, "encoding": {"x": {"field": "t", "type": "quantitative"}, "x2": {"field": "t2"}, "y": {"field": "f", "type": "quantitative"}, "y2": {"field": "f2"}}}
 ]},
{"width": 295, "height": 177, "title": {"text": "KETAMINE 10⁻⁴M", "offset": 19.4},
 "layer": [
  {"data": {"name": "traces"}, "transform": [{"filter": "datum.p == 4 && datum.s == 'F'"}], "mark": {"type": "line", "interpolate": "monotone", "color": "#000", "strokeWidth": 1.5}, "encoding": {"x": {"field": "t", "type": "quantitative", "scale": {"domain": [-110, 480], "nice": false, "zero": false}, "axis": null}, "y": {"field": "f", "type": "quantitative", "scale": {"domain": [-1.5, 10], "nice": false, "zero": false}, "axis": null}}},
  {"data": {"name": "traces"}, "transform": [{"filter": "datum.p == 4 && datum.s == 'D'"}], "mark": {"type": "line", "color": "#000", "strokeWidth": 1.3}, "encoding": {"x": {"field": "t", "type": "quantitative"}, "y": {"field": "f", "type": "quantitative"}}},
  {"data": {"name": "bars"}, "transform": [{"filter": "datum.p == 4"}], "mark": {"type": "rule", "clip": true, "color": "#000", "strokeWidth": 1}, "encoding": {"x": {"field": "t", "type": "quantitative"}, "x2": {"field": "t2"}, "y": {"field": "f", "type": "quantitative"}, "y2": {"field": "f2"}}}
 ]},
{"width": 295, "height": 177, "title": {"text": "KETAMINE 3.3x10⁻⁴M", "offset": 20.4, "dx": -7},
 "layer": [
  {"data": {"name": "traces"}, "transform": [{"filter": "datum.p == 5 && datum.s == 'F'"}], "mark": {"type": "line", "interpolate": "monotone", "color": "#000", "strokeWidth": 1.5}, "encoding": {"x": {"field": "t", "type": "quantitative", "scale": {"domain": [-110, 480], "nice": false, "zero": false}, "axis": null}, "y": {"field": "f", "type": "quantitative", "scale": {"domain": [-1.5, 10], "nice": false, "zero": false}, "axis": null}}},
  {"data": {"name": "traces"}, "transform": [{"filter": "datum.p == 5 && datum.s == 'D'"}], "mark": {"type": "line", "color": "#000", "strokeWidth": 1.3}, "encoding": {"x": {"field": "t", "type": "quantitative"}, "y": {"field": "f", "type": "quantitative"}}}
 ]},
{"width": 295, "height": 177, "title": {"text": "CONTROL", "offset": 15.4},
 "layer": [
  {"data": {"name": "traces"}, "transform": [{"filter": "datum.p == 6 && datum.s == 'F'"}], "mark": {"type": "line", "interpolate": "monotone", "color": "#000", "strokeWidth": 1.5}, "encoding": {"x": {"field": "t", "type": "quantitative", "scale": {"domain": [-110, 480], "nice": false, "zero": false}, "axis": null}, "y": {"field": "f", "type": "quantitative", "scale": {"domain": [-1.5, 10], "nice": false, "zero": false}, "axis": null}}},
  {"data": {"name": "traces"}, "transform": [{"filter": "datum.p == 6 && datum.s == 'D'"}], "mark": {"type": "line", "color": "#000", "strokeWidth": 1.3}, "encoding": {"x": {"field": "t", "type": "quantitative"}, "y": {"field": "f", "type": "quantitative"}}},
  {"data": {"name": "bars"}, "transform": [{"filter": "datum.p == 6"}], "mark": {"type": "rule", "clip": true, "color": "#000", "strokeWidth": 1.5}, "encoding": {"x": {"field": "t", "type": "quantitative"}, "x2": {"field": "t2"}, "y": {"field": "f", "type": "quantitative"}, "y2": {"field": "f2"}}},
  {"data": {"name": "labels"}, "transform": [{"filter": "datum.p == 6"}], "mark": {"type": "text", "clip": true, "align": "left", "baseline": "alphabetic", "font": "Liberation Sans, DejaVu Sans, sans-serif", "fontSize": 12.5, "fontWeight": "bold", "color": "#000"}, "encoding": {"x": {"field": "t", "type": "quantitative"}, "y": {"field": "f", "type": "quantitative"}, "text": {"field": "label"}}}
 ]}
]
}
